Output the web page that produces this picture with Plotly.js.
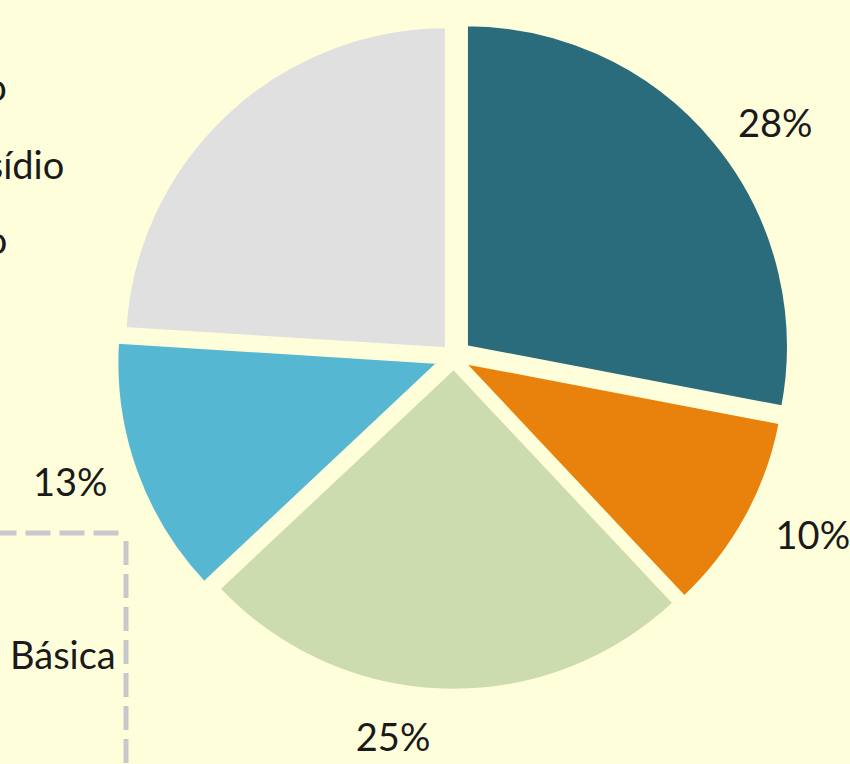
<!DOCTYPE html>
<html>
<head>
<meta charset="utf-8">
<script src="https://cdn.plot.ly/plotly-3.0.1.min.js"></script>
<style>html,body{margin:0;padding:0;background:#fffedb;}#chart{width:850px;height:764px;}</style>
</head>
<body>
<div id="chart"></div>
<script>
// Data
const categories = ["Categoria A", "Categoria B", "Categoria C", "Categoria D", "Outros"];
const values = [28, 10, 25, 13, 24];
const showLabel = [true, true, true, true, false];
const colors = ["#2a6b7c", "#e8820c", "#cddcae", "#56b7d3", "#e0e0e0"];
const pulls = [0.05, 0.035, 0.035, 0.05, 0.035];
const leftTexts = ["Ensino Fundamental Completo", "Subsídio", "Ensino Médio Completo"];
const boxText = "Básica";

const bg = "#fffedb";
const labelFont = { family: "Lato, 'Open Sans', sans-serif", size: 38, color: "#1a1a1a" };

// Visible pie
const pieTrace = {
  type: "pie",
  labels: categories,
  values: values,
  sort: false,
  direction: "clockwise",
  rotation: 0,
  pull: pulls,
  marker: { colors: colors, line: { color: bg, width: 3 } },
  textinfo: "none",
  automargin: false,
  showlegend: false,
  hoverinfo: "label+percent",
  domain: { x: [0.1364, 0.9319], y: [0.0902, 0.9753] }
};

// Transparent ring carrying the outside percentage labels, a bit further out
const labelTrace = {
  type: "pie",
  labels: categories,
  values: values,
  sort: false,
  direction: "clockwise",
  rotation: 0,
  marker: { colors: values.map(() => "rgba(0,0,0,0)"), line: { width: 0 } },
  texttemplate: showLabel.map(s => s ? "%{percent:.0%}" : ""),
  textposition: "outside",
  outsidetextfont: labelFont,
  textfont: labelFont,
  automargin: false,
  showlegend: false,
  hoverinfo: "skip",
  domain: { x: [0.1153, 0.9506], y: [0.0668, 0.996] }
};

const txtFont = { family: "Lato, 'Open Sans', sans-serif", size: 38, color: "#1a1a1a" };
const annotations = [
  { xref: "paper", yref: "paper", x: 9 / 850, y: 1 - 86 / 764, xanchor: "right", yanchor: "middle", text: leftTexts[0], showarrow: false, font: txtFont },
  { xref: "paper", yref: "paper", x: 66 / 850, y: 1 - 164 / 764, xanchor: "right", yanchor: "middle", text: leftTexts[1], showarrow: false, font: txtFont },
  { xref: "paper", yref: "paper", x: 9 / 850, y: 1 - 239 / 764, xanchor: "right", yanchor: "middle", text: leftTexts[2], showarrow: false, font: txtFont },
  { xref: "paper", yref: "paper", x: 118 / 850, y: 1 - 654 / 764, xanchor: "right", yanchor: "middle", text: boxText, showarrow: false, font: txtFont }
];

const shapes = [
  { type: "line", xref: "paper", yref: "paper", x0: -0.01, x1: 126 / 850, y0: 1 - 533 / 764, y1: 1 - 533 / 764, line: { color: "#c8c8cc", width: 5, dash: "25px,9px" } },
  { type: "line", xref: "paper", yref: "paper", x0: 126 / 850, x1: 126 / 850, y0: 1 - 541 / 764, y1: -0.01, line: { color: "#c8c8cc", width: 5, dash: "24px,9px" } }
];

const layout = {
  width: 850,
  height: 764,
  margin: { l: 0, r: 0, t: 0, b: 0 },
  paper_bgcolor: bg,
  plot_bgcolor: bg,
  annotations: annotations,
  shapes: shapes
};

Plotly.newPlot("chart", [pieTrace, labelTrace], layout, { displayModeBar: false, staticPlot: true });
</script>
</body>
</html>
